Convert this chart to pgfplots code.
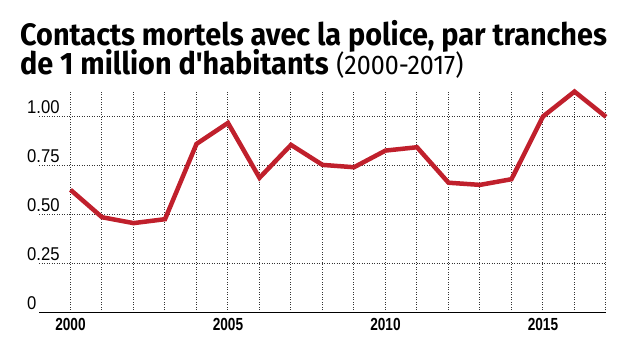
\documentclass[border=0pt]{standalone}
\usepackage{pgfplots}
\pgfplotsset{compat=1.18}
\usepackage{fontspec}
\setmainfont{Fira Sans}
\newfontfamily\titlefont[FakeStretch=0.93]{Fira Sans}
\newfontfamily\ylabfont[FakeStretch=0.9]{Liberation Sans}
\newfontfamily\xlabfont[FakeStretch=0.78]{Liberation Sans}
\definecolor{linered}{RGB}{192,32,44}
\begin{document}
\begin{tikzpicture}[x=1pt,y=1pt]
\useasboundingbox (0,0) rectangle (635,357);
\node[anchor=base west, inner sep=0] at (20,311) {\titlefont\fontsize{31}{31}\selectfont\bfseries Contacts mortels avec la police, par tranches};
\node[anchor=base west, inner sep=0] at (20,283) {\titlefont\fontsize{31}{31}\selectfont{\bfseries de 1 million d'habitants} {\fontsize{27}{27}\selectfont(2000-2017)}};
\begin{axis}[
  at={(39pt,44.5pt)}, anchor=south west, scale only axis,
  width=567pt, height=222.5pt,
  xmin=1999, xmax=2017, ymin=0, ymax=1.135,
  axis x line=bottom, axis y line=left,
  axis line style={-},
  x axis line style={line width=1.8pt, black},
  y axis line style={draw=none},
  major tick length=0pt,
  xtick={2000,...,2017},
  xticklabels={2000,,,,,2005,,,,,2010,,,,,2015,,},
  ytick={0,0.25,0.5,0.75,1},
  yticklabels={0,0.25,0.50,0.75,1.00},
  xticklabel style={font=\xlabfont\bfseries\fontsize{17.5}{17.5}\selectfont, inner sep=0pt, anchor=north, yshift=-6pt},
  yticklabel style={font=\ylabfont\fontsize{18.5}{18.5}\selectfont, inner sep=0pt, anchor=south west, xshift=-12pt, yshift=3pt},
  grid=major,
  major grid style={draw=black!80, dash pattern=on 1pt off 1.5pt, line width=1pt},
  clip=false,
]
\addplot[linered, line width=4.5pt, mark=none] coordinates {
(2000,0.626) (2001,0.486) (2002,0.456) (2003,0.476) (2004,0.86) (2005,0.967)
(2006,0.687) (2007,0.855) (2008,0.753) (2009,0.741) (2010,0.826) (2011,0.843)
(2012,0.662) (2013,0.651) (2014,0.680) (2015,1.000) (2016,1.127) (2017,0.998)
};
\end{axis}
\end{tikzpicture}
\end{document}
